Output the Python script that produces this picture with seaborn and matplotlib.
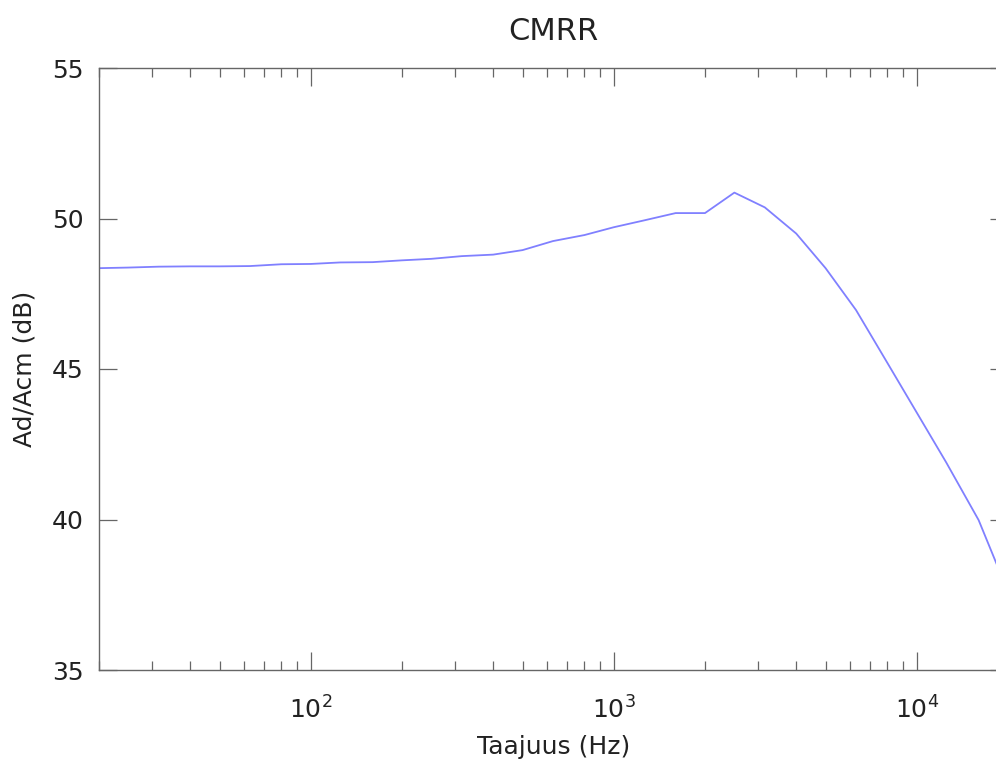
import matplotlib
matplotlib.use("Agg")
import matplotlib.pyplot as plt
import seaborn as sns
import pandas as pd
import numpy as np
from matplotlib.ticker import LogLocator, NullFormatter

freq_hz = [20, 25, 31.5, 40, 50, 63, 80, 100, 125, 160, 200, 250, 315, 400, 500,
           630, 800, 1000, 1250, 1600, 2000, 2500, 3150, 4000, 5000, 6300, 8000,
           10000, 12500, 16000, 20000]
cmrr_db = [48.35, 48.37, 48.40, 48.41, 48.41, 48.42, 48.48, 48.49, 48.54, 48.55,
           48.61, 48.66, 48.75, 48.80, 48.95, 49.25, 49.45, 49.71, 49.93, 50.18,
           50.18, 50.86, 50.37, 49.50, 48.35, 46.96, 45.20, 43.55, 41.90, 39.98,
           37.60]
y_ticks = [35, 40, 45, 50, 55]

title = "CMRR"
xlabel = "Taajuus (Hz)"
ylabel = "Ad/Acm (dB)"

df = pd.DataFrame({"f": freq_hz, "cmrr": cmrr_db})

sns.set_theme(style="white")
plt.rcParams["font.family"] = ["DejaVu Sans"]

W, H = 996, 764
fig = plt.figure(figsize=(W / 100, H / 100), dpi=100)
ax = fig.add_axes([99 / W, 1 - 670 / H, (1008 - 99) / W, (670 - 68) / H])

sns.lineplot(data=df, x="f", y="cmrr", ax=ax, color="#8080ff", linewidth=1.3)

ax.set_xscale("log")
ax.set_xlim(20, 20000)
ax.set_ylim(35, 55)
ax.set_yticks(y_ticks)
ax.xaxis.set_major_locator(LogLocator(base=10, numticks=10))
ax.xaxis.set_minor_locator(LogLocator(base=10, subs=np.arange(2, 10), numticks=50))
ax.xaxis.set_minor_formatter(NullFormatter())

for s in ax.spines.values():
    s.set_color("#666666")
    s.set_linewidth(1.0)

ax.tick_params(axis="both", which="major", direction="in", length=13, width=0.9,
               color="#666666", labelsize=18, top=True, right=True,
               bottom=True, left=True, pad=11, labelcolor="#222222")
ax.tick_params(axis="x", which="minor", direction="in", length=6.5, width=0.9,
               color="#666666", top=True, bottom=True)
ax.tick_params(axis="x", which="major", pad=19)

ax.set_title(title, fontsize=22, pad=20, color="#222222")
ax.set_xlabel(xlabel, fontsize=18, color="#222222", labelpad=8)
ax.set_ylabel(ylabel, fontsize=18, color="#222222", labelpad=11)
ax.grid(False)

fig.savefig("out.png", dpi=100)
